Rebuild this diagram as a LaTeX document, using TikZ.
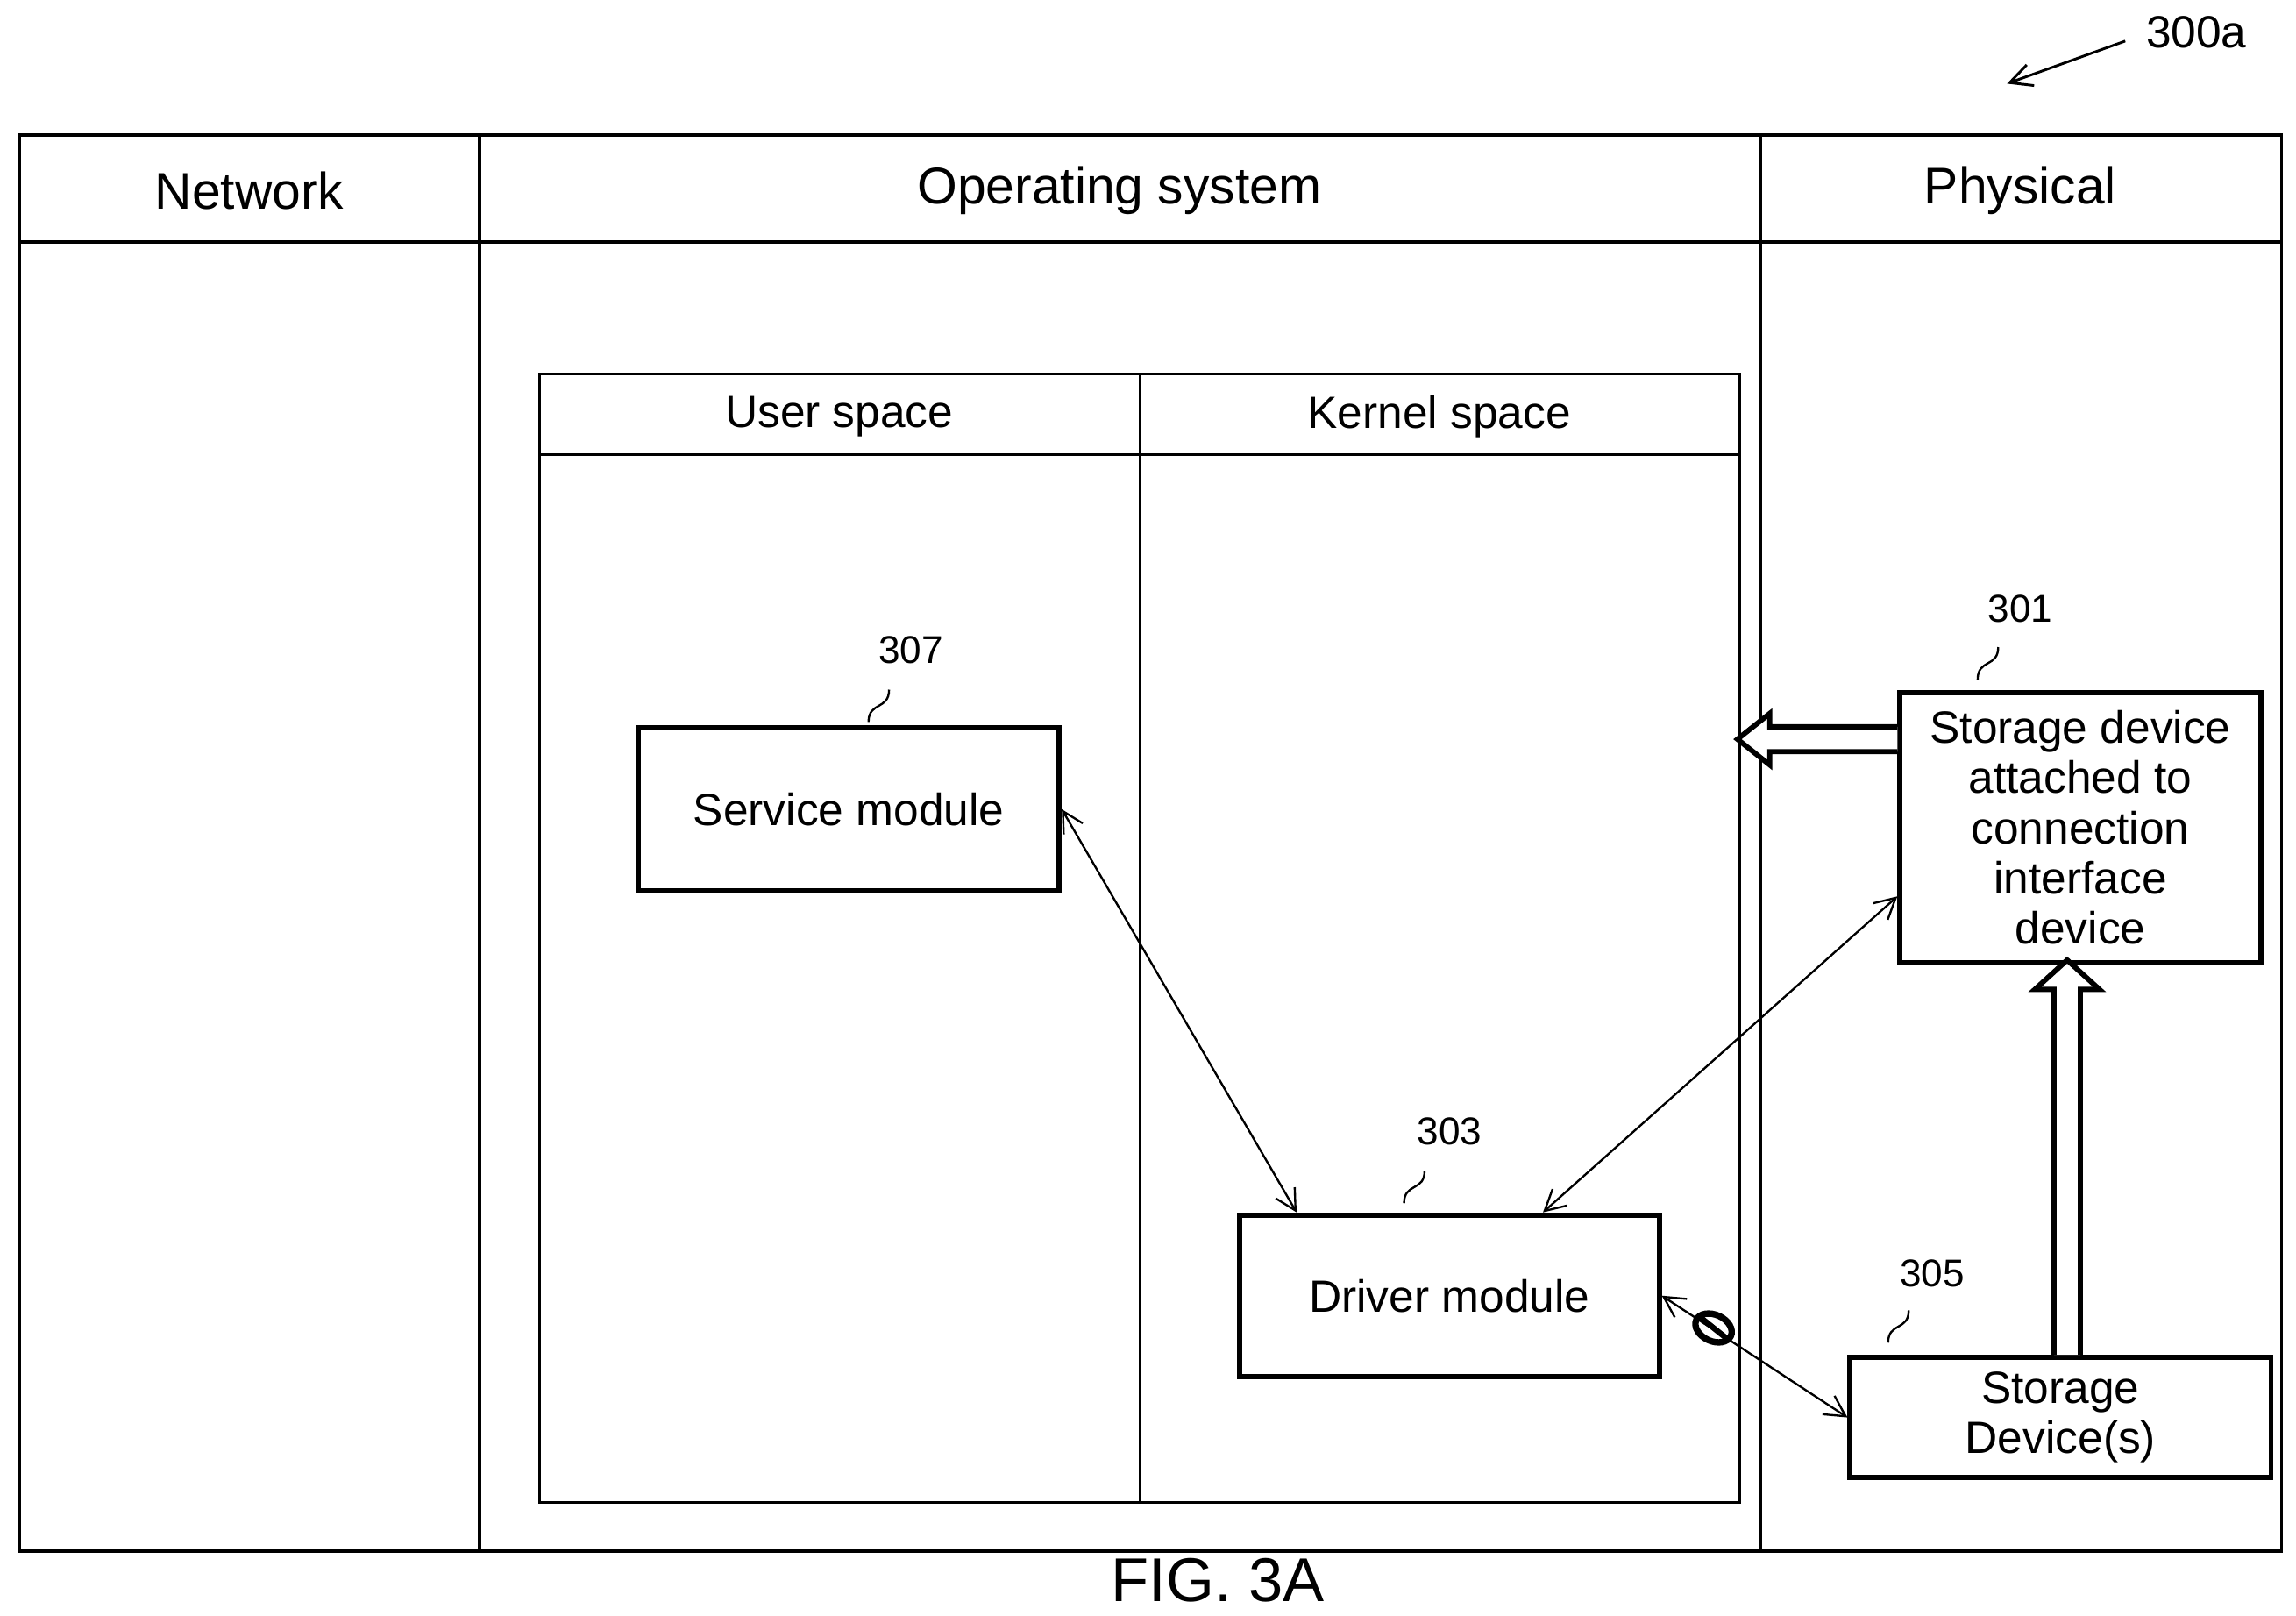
\documentclass[tikz,border=0pt]{standalone}
\usepackage{fontspec}
\setmainfont{Liberation Sans}
\usetikzlibrary{arrows.meta,positioning,calc}
\tikzstyle{module}=[draw,line width=2pt,align=center,font=\fontsize{17.5}{19.5}\selectfont,inner sep=2pt]
\tikzstyle{lane}=[font=\fontsize{20}{24}\selectfont]
\tikzstyle{sublane}=[font=\fontsize{17.5}{21}\selectfont]
\tikzstyle{ref}=[font=\fontsize{15}{18}\selectfont]
\tikzstyle{link}=[draw,line width=0.8pt,{Straight Barb[length=0.28cm,width=0.3cm]}-{Straight Barb[length=0.28cm,width=0.3cm]}]
\tikzstyle{hollow}=[draw,line width=2pt,fill=white,line join=miter]

\begin{document}
\begin{tikzpicture}[x=0.02cm,y=-0.02cm]
  \useasboundingbox (0,0) rectangle (1565,1101);
  % lanes
  \draw[line width=1.2pt] (13,92) rectangle (1555,1057);
  \draw[line width=1.2pt] (13,165) -- (1555,165) (327,92) -- (327,1057) (1200,92) -- (1200,1057);
  \node[lane] (network) at (170,130) {Network};
  \node[lane] (os) at (763,130) {Operating system};
  \node[lane] (phys) at (1377,130) {Physical};
  % user / kernel space
  \draw[line width=1pt] (368,255) rectangle (1186,1024);
  \draw[line width=1pt] (368,310) -- (1186,310) (777,255) -- (777,1024);
  \node[sublane] (user) at (572,284) {User space};
  \node[sublane] (kernel) at (981,284) {Kernel space};

  \node[module,minimum width=5.74cm,minimum height=2.22cm] (service) at (578.5,551.5) {Service module};
  \node[module,minimum width=5.72cm,minimum height=2.2cm] (driver) at (988,883) {Driver module};
  \node[module,minimum width=4.92cm,minimum height=3.68cm] (attached) at (1418,564) {Storage device\\attached to\\connection\\interface\\device};
  \node[module,minimum width=5.74cm,minimum height=1.64cm] (storage) at (1404.5,966) {Storage\\Device(s)};

  % reference numerals
  \node[ref] (n307) at (621,443) {307};
  \node[ref] (n303) at (988,771) {303};
  \node[ref] (n301) at (1377,415) {301};
  \node[ref] (n305) at (1317,868) {305};
  \node[font=\fontsize{17.5}{21}\selectfont] (n300) at (1497,22) {300a};
  \foreach \x/\y in {592/492,957/820,1348/463,1287/915}
    \draw[line width=0.8pt] (\x,\y) .. controls (\x,\y-14) and (\x+14,\y-8) .. (\x+14,\y-22);
  \coordinate (fig) at (1368,57);
  \draw[line width=1pt,-{Straight Barb[length=0.3cm,width=0.3cm]}] (n300.west) ++(-8,6) -- (fig);

  % connectors
  \path[link] (service.east) -- ($(driver.north west)!0.14!(driver.north east)$);
  \path[link] ($(driver.north west)!0.72!(driver.north east)$) -- ($(attached.south west)!0.25!(attached.north west)$);
  \path[link] (driver.east) -- ($(storage.south west)!0.5!(storage.north west)$);
  \draw[line width=2.5pt,rotate around={-25:(1168,905)}] (1168,905) ellipse (13 and 9);
  \draw[line width=2.2pt] (1158,897) -- (1178,913);

  % hollow arrows
  \path[hollow] ($(attached.north west)+(0,25)$) -- ++(-87,0) -- ++(0,-9) -- ++(-22,17.5) -- ++(22,17.5) -- ++(0,-9) -- ++(87,0);
  \path[hollow] ($(storage.north)+(-4.5,0)$) -- ++(0,-249) -- ++(-13,0) -- ++(22,-20) -- ++(22,20) -- ++(-13,0) -- ++(0,249);

  \node[font=\fontsize{24}{28}\selectfont] (caption) at (830,1077) {FIG. 3A};
\end{tikzpicture}
\end{document}
